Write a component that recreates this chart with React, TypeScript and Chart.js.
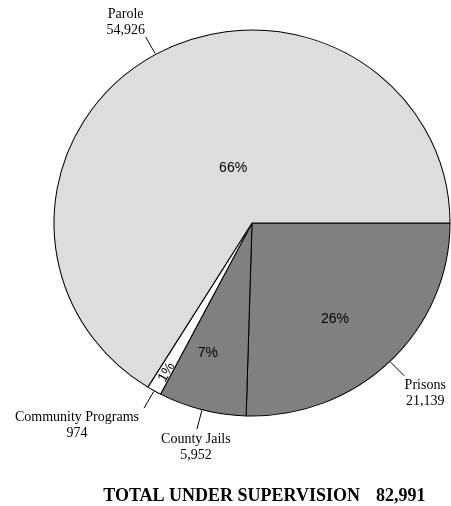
import React, { useEffect, useRef } from 'react';
import { Chart, registerables } from 'chart.js';
Chart.register(...registerables);

const categories = ['Prisons', 'County Jails', 'Community Programs', 'Parole'];
const counts = [21139, 5952, 974, 54926];
const percentLabels = ['26%', '7%', '1%', '66%'];
const sliceColors = ['#808080', '#808080', '#ffffff', '#dddddd'];
const totalLabel = 'TOTAL UNDER SUPERVISION';

// label layout (not data)
const SX = 198 / 193; // the pie is drawn slightly wider than tall
const pctPlacement = [
  { r: 0.65, da: 4, rot: false },
  { r: 0.71, da: 3.7, rot: false },
  { r: 0.886, da: -0.5, rot: true },
  { r: 0.3, da: 10.6, rot: false },
];
const namePlacement = [
  { dx: 21, dy: 10 },
  { dx: -1, dy: 10 },
  { dx: -67, dy: 9 },
  { dx: -20, dy: -23 },
];

const SERIF = '"Liberation Serif", "Times New Roman", serif';
const SANS = '"Liberation Sans", Arial, sans-serif';

const stretchPlugin = {
  id: 'stretch',
  beforeDatasetsDraw(chart: any) {
    const arc = chart.getDatasetMeta(0).data[0];
    const ctx = chart.ctx;
    ctx.save();
    ctx.translate(arc.x, arc.y);
    ctx.scale(SX, 1);
    ctx.translate(-arc.x, -arc.y);
  },
  afterDatasetsDraw(chart: any) {
    chart.ctx.restore();
  },
};

const labelPlugin = {
  id: 'labels',
  afterDraw(chart: any) {
    const ctx = chart.ctx;
    const meta = chart.getDatasetMeta(0);
    ctx.save();
    meta.data.forEach((arc: any, i: number) => {
      const { x, y, startAngle, endAngle, outerRadius } = arc.getProps(
        ['x', 'y', 'startAngle', 'endAngle', 'outerRadius'],
        true
      );
      const mid = (startAngle + endAngle) / 2;
      const pt = (ang: number, rr: number) => [x + Math.cos(ang) * rr * SX, y + Math.sin(ang) * rr];
      // percent label
      const p = pctPlacement[i];
      const a = mid + (p.da * Math.PI) / 180;
      const [px, py] = pt(a, outerRadius * p.r);
      ctx.fillStyle = '#000';
      ctx.font = `14px ${SANS}`;
      ctx.textAlign = 'center';
      ctx.textBaseline = 'middle';
      if (p.rot) {
        ctx.save();
        ctx.translate(px, py);
        ctx.rotate(mid - Math.PI);
        ctx.fillText(percentLabels[i], 0, 0);
        ctx.restore();
      } else {
        ctx.fillText(percentLabels[i], px, py);
      }
      // leader line
      const [x1, y1] = pt(mid, outerRadius + 1);
      const [x2, y2] = pt(mid, outerRadius + 20);
      ctx.strokeStyle = '#000';
      ctx.lineWidth = 1;
      ctx.beginPath();
      ctx.moveTo(x1, y1);
      ctx.lineTo(x2, y2);
      ctx.stroke();
      // name label
      const n = namePlacement[i];
      ctx.font = `14px ${SERIF}`;
      ctx.textAlign = 'center';
      ctx.textBaseline = 'middle';
      ctx.fillText(categories[i], x2 + n.dx, y2 + n.dy);
      ctx.fillText(counts[i].toLocaleString('en-US'), x2 + n.dx, y2 + n.dy + 16);
    });
    // total
    const total = counts.reduce((s, v) => s + v, 0);
    ctx.font = `bold 18px ${SERIF}`;
    ctx.textBaseline = 'middle';
    ctx.textAlign = 'right';
    ctx.fillText(totalLabel, 360, 496);
    ctx.textAlign = 'left';
    ctx.fillText(total.toLocaleString('en-US'), 376, 496);
    ctx.restore();
  },
};

export default function App() {
  const ref = useRef<HTMLCanvasElement>(null);
  useEffect(() => {
    if (!ref.current) return;
    const chart = new Chart(ref.current, {
      type: 'pie',
      data: {
        labels: categories,
        datasets: [
          {
            data: counts,
            backgroundColor: sliceColors,
            borderColor: '#000000',
            borderWidth: 1,
          },
        ],
      },
      options: {
        responsive: false,
        animation: false,
        devicePixelRatio: 1,
        events: [],
        rotation: 90,
        radius: 193,
        layout: { padding: { left: 56, right: 3, top: 30, bottom: 90 } },
        plugins: { legend: { display: false }, tooltip: { enabled: false } },
      },
      plugins: [stretchPlugin, labelPlugin],
    });
    return () => chart.destroy();
  }, []);
  return (
    <div style={{ position: 'fixed', left: 0, top: 0, width: 451, height: 506, background: '#fff' }}>
      <canvas ref={ref} width={451} height={506} />
    </div>
  );
}
